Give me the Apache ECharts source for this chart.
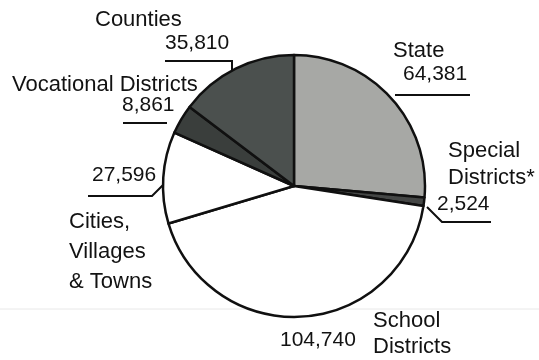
<!DOCTYPE html>
<html>
<head>
<meta charset="utf-8">
<script src="https://cdn.jsdelivr.net/npm/echarts@6/dist/echarts.min.js"></script>
<style>
  html, body { margin: 0; padding: 0; background: #ffffff; }
  #chart { width: 539px; height: 360px; }
</style>
</head>
<body>
<div id="chart"></div>
<script>
// Employees by level of government
const categories = ['State', 'Special\nDistricts*', 'School\nDistricts', 'Cities,\nVillages\n& Towns', 'Vocational Districts', 'Counties'];
const employees = [64381, 2524, 104740, 27596, 8861, 35810];
const sliceColors = ['#a7a8a5', '#454746', '#ffffff', '#ffffff', '#3a3e3c', '#4b504e'];

const FONT = '"Liberation Sans", Arial, Helvetica, sans-serif';
const INK = '#121212';
const fmt = v => v.toLocaleString('en-US');
const nameLines = i => categories[i].split('\n');

const nameStyle = (lh, extra) => Object.assign({ fontFamily: FONT, fontSize: 22, color: INK, lineHeight: lh }, extra || {});
const valStyle = (lh, extra) => Object.assign({ fontFamily: FONT, fontSize: 21, color: INK, lineHeight: lh }, extra || {});

// Label text, rich styles, placement and leader line for each slice
const labelSpecs = [
  { // State
    text: i => `{n|${nameLines(i)[0]}}\n{v|${fmt(employees[i])}}`,
    rich: { n: nameStyle(24), v: valStyle(24, { padding: [0, 0, 0, 10] }) },
    x: 393, y: 38.5,
    line: [[395, 95], [395, 95], [470, 95]]
  },
  { // Special districts
    text: i => nameLines(i).map(s => `{n|${s}}`).join('\n') + `\n{v|${fmt(employees[i])}}`,
    rich: { n: nameStyle(27, { padding: [0, 0, 0, 11] }), v: valStyle(27) },
    x: 437, y: 137,
    line: [[427, 207], [442, 222], [491, 222]]
  },
  { // School districts
    text: i => `{g| }{n|${nameLines(i)[0]}}\n{w|${fmt(employees[i])}}{n|${nameLines(i)[1]}}`,
    rich: {
      g: valStyle(26, { width: 93 }),
      n: nameStyle(26),
      w: valStyle(26, { width: 93, padding: [0, 0, 13, 0] })
    },
    x: 280, y: 307.5,
    line: null
  },
  { // Cities, villages & towns
    text: i => `{v|${fmt(employees[i])}}\n{e| }\n` + nameLines(i).map(s => `{n|${s}}`).join('\n'),
    rich: {
      v: valStyle(30, { padding: [0, 0, 0, 23] }),
      e: valStyle(16, { fontSize: 10 }),
      n: nameStyle(30)
    },
    x: 69, y: 160.5,
    line: [[163, 185], [152, 196], [88, 196]]
  },
  { // Vocational districts
    text: i => `{n|${nameLines(i)[0]}}\n{v|${fmt(employees[i])}}`,
    rich: { n: nameStyle(21), v: valStyle(21, { padding: [0, 0, 0, 110] }) },
    x: 12, y: 74,
    line: [[167, 123], [167, 123], [123, 123]]
  },
  { // Counties
    text: i => `{n|${nameLines(i)[0]}}\n{v|${fmt(employees[i])}}`,
    rich: { n: nameStyle(23), v: valStyle(23, { padding: [0, 0, 0, 70] }) },
    x: 95, y: 8.5,
    line: [[232, 70], [232, 61], [165, 61]]
  }
];

const pieData = employees.map((v, i) => ({
  name: categories[i],
  value: v,
  itemStyle: { color: sliceColors[i] },
  label: {
    formatter: () => labelSpecs[i].text(i),
    rich: labelSpecs[i].rich
  },
  labelLine: { show: labelSpecs[i].line !== null }
}));

const chart = echarts.init(document.getElementById('chart'), null, { renderer: 'canvas' });
chart.setOption({
  backgroundColor: '#ffffff',
  animation: false,
  graphic: [{
    type: 'line',
    z: -10,
    shape: { x1: 0, y1: 309, x2: 539, y2: 309 },
    style: { stroke: '#e8e8e8', lineWidth: 1 }
  }],
  series: [{
    type: 'pie',
    center: [294, 186],
    radius: 131,
    startAngle: 90,
    clockwise: true,
    avoidLabelOverlap: false,
    itemStyle: { borderColor: '#101010', borderWidth: 2.5 },
    label: {
      show: true,
      position: 'outside',
      fontFamily: FONT,
      color: INK
    },
    labelLine: {
      show: true,
      smooth: false,
      lineStyle: { color: '#101010', width: 2 }
    },
    labelLayout: params => {
      const s = labelSpecs[params.dataIndex];
      const out = { x: s.x, y: s.y, align: 'left', verticalAlign: 'top' };
      if (s.line) out.labelLinePoints = s.line;
      return out;
    },
    emphasis: { disabled: true },
    data: pieData
  }]
});
</script>
</body>
</html>
